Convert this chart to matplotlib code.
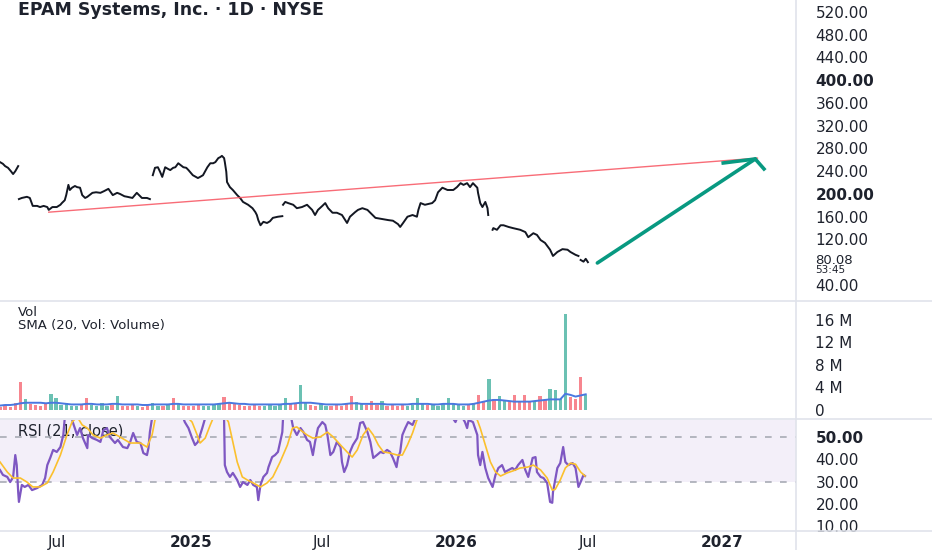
import numpy as np
import pandas as pd
import matplotlib
matplotlib.use('agg')
import matplotlib.pyplot as plt

plt.rcParams['font.family'] = ['DejaVu Sans']

# ---- data ----
start = pd.Timestamp('2024-04-14')
end = pd.Timestamp('2027-04-13')

nan = np.nan
# price trace, days after start; nan marks a gap in the bars
price_days = [0, 4, 7, 11, 15, 18, 21, 25, nan,
              26, 30, 37, 41, 45, 51, 55, 60, 65, 67, 72, 78, 83, 85, 89, 91, 94, 96, 99, 103,
              106, 110, 113, 117, 120, 127, 132, 138, 143, 149, 155, 161, 165, 171, 175, 182,
              188, 195, 202, 206, nan,
              210, 213, 217, 220, 223, 227, 231, 234, 238, 241, 245, 248, 252, 256, 259, 265,
              272, 275, 279, 285, 289, 293, 296, 300, 303, 305, 308, 309, 311, 312, 316, 320,
              326, 330, 334, 341, 347, 351, 353, 355, 358, 362, 367, 371, 375, 382, 388, nan,
              389, 392, 396, 403, 408, 415, 422, 429, 433, 437, 443, 447, 451, 457, 463, 470,
              477, 481, 488, 492, 498, 505, 512, 516, 525, 534, 540, 547, 550, 554, 560, 567,
              573, 575, 578, 584, 594, 598, 602, 608, 615, 623, 628, 633, 637, 642, 646, 650,
              656, 657, 660, 663, 667, 670, 671, nan,
              677, 678, 683, 688, 692, 699, 705, 715, 722, 726, 733, 738, 743, 749, 756, 760,
              766, 773, 780, 784, 791, 795, nan,
              798, 802, 805, 808]
price_vals = [256, 253, 249, 246, 240, 235, 240, 249, nan,
              191, 193, 195, 193, 179, 179, 177, 179, 177, 172, 177, 177, 181, 184, 189, 198,
              216, 207, 211, 214, 212, 211, 198, 193, 195, 202, 203, 202, 205, 209, 198, 202,
              200, 196, 195, 193, 202, 193, 193, 191, nan,
              233, 246, 247, 239, 230, 247, 244, 242, 246, 247, 254, 251, 247, 246, 242, 233,
              228, 230, 233, 247, 254, 254, 256, 263, 265, 267, 263, 256, 239, 221, 212, 207,
              198, 193, 186, 181, 175, 168, 163, 154, 145, 151, 149, 152, 158, 160, 161, nan,
              181, 186, 184, 181, 175, 177, 181, 172, 163, 172, 179, 184, 175, 167, 167, 163,
              149, 160, 168, 172, 175, 172, 163, 158, 156, 154, 153, 147, 142, 149, 160, 163,
              160, 172, 184, 181, 184, 189, 203, 211, 207, 207, 212, 219, 216, 219, 212, 219,
              211, 202, 184, 177, 186, 175, 163, nan,
              137, 140, 137, 145, 145, 142, 140, 137, 133, 124, 131, 128, 119, 114, 102, 91,
              98, 103, 102, 98, 93, 91, nan,
              84, 81, 86, 80.08]
last_price = 80.08
countdown = '53:45'

trend_days = [67, 1041]
trend_vals = [168, 263]

arrow_days = [821, 1038]
arrow_vals = [78.7, 261.5]
head_days = [994, 1038, 1050]
head_vals = [254.5, 261.5, 244]

# weekly volume, millions
volume = [0.5, 0.6, 0.5, 1.2, 4.9, 1.9, 1.0, 0.8, 0.7, 0.9,
          2.8, 2.0, 0.8, 1.1, 0.6, 0.7, 0.9, 2.0, 0.8, 0.6,
          1.2, 0.7, 0.8, 2.4, 0.7, 0.6, 0.8, 0.6, 0.5, 0.7,
          1.2, 0.7, 0.6, 0.8, 2.0, 0.9, 0.6, 0.7, 0.6, 0.8,
          0.7, 0.6, 0.8, 0.9, 2.3, 1.4, 1.0, 0.8, 0.7, 0.6,
          0.8, 0.7, 0.6, 0.8, 0.7, 0.9, 2.1, 1.2, 0.9, 4.4,
          1.1, 0.8, 0.7, 0.9, 0.6, 0.7, 0.8, 0.6, 1.0, 2.4,
          1.3, 0.9, 0.8, 1.6, 0.8, 1.6, 0.7, 0.8, 0.6, 0.9,
          0.7, 0.8, 2.0, 1.0, 0.8, 0.9, 0.7, 1.0, 2.0, 0.9,
          0.8, 0.7, 1.0, 1.1, 2.5, 1.6, 5.4, 1.8, 2.4, 1.5,
          1.4, 2.5, 1.3, 2.6, 1.4, 1.6, 2.4, 1.7, 3.6, 3.5,
          1.9, 16.9, 2.2, 1.8, 5.8, 2.6]
vol_dir = ('dddddudddd' 'uuuuuudduu' 'uududddudd' 'uudududddd' 'uuuudddddd'
           'dduuuuuddu' 'udduuddddd' 'uudddudddd' 'uuuuduuuuu' 'uududduduu'
           'dddddudduu' 'uudddu')
vol_sma = [0.7, 0.8, 0.8, 0.9, 1.1, 1.2, 1.2, 1.2, 1.2, 1.1,
           1.2, 1.2, 1.1, 1.0, 0.9, 0.9, 0.9, 1.0, 1.0, 0.9,
           0.9, 0.9, 1.0, 1.0, 0.9, 0.9, 0.9, 0.9, 0.8, 0.8,
           0.9, 0.9, 0.9, 0.9, 1.0, 1.0, 0.9, 0.9, 0.9, 0.9,
           0.9, 0.9, 0.9, 1.0, 1.1, 1.2, 1.1, 1.0, 1.0, 0.9,
           0.9, 0.9, 0.9, 0.9, 0.9, 0.9, 1.0, 1.0, 1.1, 1.2,
           1.2, 1.2, 1.1, 1.0, 0.9, 0.9, 0.9, 0.9, 1.0, 1.1,
           1.1, 1.0, 1.0, 1.0, 1.0, 1.0, 0.9, 0.9, 0.9, 0.9,
           0.9, 1.0, 1.0, 1.0, 1.0, 0.9, 0.9, 1.0, 1.0, 1.0,
           0.9, 0.9, 0.9, 1.0, 1.2, 1.4, 1.6, 1.7, 1.7, 1.6,
           1.5, 1.4, 1.4, 1.4, 1.4, 1.5, 1.6, 1.7, 1.8, 1.8,
           1.8, 2.8, 2.6, 2.3, 2.5, 2.7]

rsi_days = [0, 4, 10, 14, 18, 21, 23, 25, 26, 30, 34, 39, 44, 51, 58, 62, 65, 69, 73, 78,
            83, 87, 89, 94, 98, 100, 106, 110, 114, 120, 121, 127, 133, 138, 142, 147, 151,
            158, 162, 169, 175, 179, 183, 188, 193, 197, 202, 204, 206, 209, 217, 227, 237,
            248, 254, 259, 264, 268, 272, 278, 282, 289, 297, 305, 308, 309, 312, 316, 320,
            326, 330, 334, 340, 344, 348, 353, 355, 358, 362, 367, 369, 374, 378, 382, 388,
            389, 396, 400, 403, 408, 413, 417, 422, 426, 430, 433, 437, 443, 447, 450, 454,
            458, 463, 468, 470, 473, 477, 481, 485, 491, 495, 499, 505, 509, 513, 518, 523,
            527, 532, 536, 540, 545, 547, 550, 553, 557, 561, 567, 571, 584, 605, 619, 626,
            630, 635, 639, 642, 644, 650, 656, 657, 660, 663, 667, 671, 677, 681, 685, 690,
            694, 699, 704, 708, 712, 718, 722, 726, 732, 736, 738, 743, 747, 752, 756, 759,
            760, 766, 770, 774, 777, 781, 787, 791, 795, 798, 802, 804]
rsi_vals = [35.2, 33.0, 32.1, 29.8, 32.0, 41.9, 37.4, 25.3, 20.9, 28.5, 27.6, 28.5, 26.2,
            27.1, 28.5, 31.6, 37.4, 40.6, 44.2, 43.3, 45.5, 50.9, 58.5, 62, 60, 56.7, 50.9,
            54, 49.5, 45, 50.9, 49.5, 48.7, 47.8, 53, 54, 50, 47.3, 48.7, 45.5, 45, 47.8,
            51.8, 47.8, 47.3, 42.8, 41.9, 45, 52.2, 58.5, 63, 65, 64, 62, 56.7, 54, 49.5,
            46.4, 47.8, 54, 58.5, 63, 64, 61, 57.6, 37.4, 34.3, 32.1, 33.9, 30.7, 27.6, 29.8,
            28.5, 30.7, 28.5, 27.6, 21.7, 28.5, 32.1, 33.9, 36.5, 41, 41.9, 43.3, 52.2, 58.5,
            61, 59, 54, 50.9, 54, 52.2, 48.7, 47.8, 41.9, 47.8, 54, 56.7, 55.4, 50.9, 41.9,
            43.3, 47.8, 45.5, 38.8, 34.3, 37.4, 43.3, 46.4, 49.5, 56.3, 56.7, 52.2, 47.8,
            40.6, 41.9, 43.3, 42.8, 44.2, 43.3, 40.6, 36.5, 40.6, 43.3, 50.9, 54, 56.7, 55.4,
            58.5, 63, 64, 60, 56.7, 60, 59, 56.7, 54, 57.6, 56.7, 50.9, 41.9, 37.4, 43.3,
            36.1, 31.6, 27.6, 33, 36.1, 37.4, 34.3, 35.2, 36.1, 35.2, 37.4, 39.7, 35.2, 32.1,
            40.6, 41, 34.3, 32.1, 31.6, 29.4, 20.9, 20.5, 25.3, 36.1, 38.3, 45.5, 38.8, 37.4,
            38.3, 36.1, 27.6, 29.8, 33, 32.5]

rsi_ma_days = [0, 10, 18, 28, 37, 45, 55, 65, 73, 83, 92, 99, 106, 113, 120, 128, 138, 147,
               155, 165, 179, 193, 202, 209, 213, 220, 234, 248, 257, 264, 271, 275, 282, 289,
               293, 300, 308, 314, 320, 326, 333, 340, 348, 358, 367, 375, 385, 395, 402, 408,
               413, 422, 430, 440, 450, 458, 468, 477, 484, 491, 499, 506, 513, 520, 527, 536,
               546, 553, 560, 567, 573, 584, 605, 633, 649, 656, 660, 667, 674, 681, 688, 697,
               705, 715, 725, 733, 743, 752, 759, 763, 770, 777, 784, 791, 798, 804]
rsi_ma_vals = [38.8, 34.3, 31.6, 31.6, 29.8, 27.6, 27.6, 29.4, 34.3, 41.9, 50.9, 56.7, 59,
               55.4, 54, 50.9, 49.5, 50.9, 51.8, 50, 47.3, 47.3, 45.5, 50.9, 57.6, 61, 63, 62,
               59, 56.7, 50.9, 47.3, 49.5, 55.4, 58.5, 61, 60, 56.7, 47.8, 38.8, 32.1, 30.7,
               29.4, 27.6, 29.4, 32.1, 38.8, 46.4, 54, 54.5, 53.1, 50.9, 49.5, 50, 52.2, 50,
               46.4, 43.3, 41, 44.2, 50.9, 54, 50.9, 46.4, 43.3, 42.8, 41.9, 41.9, 46.4, 51.8,
               57.6, 61, 63, 62, 60, 57.6, 54, 46.4, 38.8, 34.3, 32.5, 33.9, 34.8, 36.1, 36.5,
               37.4, 35.2, 31.6, 26.2, 26.5, 30.7, 36.1, 38.3, 37.8, 34.3, 32.5]

# ---- figure ----
text_col = '#1e222d'
sep_col = '#e0e3eb'
up_col = '#089981'
down_col = '#f23645'

def to_dates(days):
    d = np.array(days, dtype=float)
    out = pd.Series(pd.NaT, index=range(len(d)))
    ok = ~np.isnan(d)
    out[ok] = start + pd.to_timedelta(d[ok], unit='D')
    return out.values

fig = plt.figure(figsize=(9.32, 5.5), dpi=100)
W = 796 / 932
ax_p = fig.add_axes([0, 1 - 300 / 550, W, 300 / 550])
ax_v = fig.add_axes([0, 1 - 418 / 550, W, 117 / 550], sharex=ax_p)
ax_r = fig.add_axes([0, 1 - 530 / 550, W, 110 / 550], sharex=ax_p)

for ax in (ax_p, ax_v, ax_r):
    for s in ax.spines.values():
        s.set_visible(False)
    ax.yaxis.tick_right()
    ax.tick_params(axis='y', length=0, pad=14, labelsize=11, labelcolor=text_col)
    ax.tick_params(axis='x', length=0)
    ax.set_xlim(start, end)

# price pane
pd_dates = to_dates(price_days)
ax_p.plot(pd_dates, price_vals, color='#131722', lw=1.4)
ax_p.plot(to_dates(trend_days), trend_vals, color='#f7525f', lw=1.0, alpha=0.85)
ax_p.plot(to_dates(arrow_days), arrow_vals, color=up_col, lw=2.6, solid_capstyle='round')
ax_p.plot(to_dates(head_days), head_vals, color=up_col, lw=2.6, solid_joinstyle='miter')
ax_p.set_ylim(13.6, 541)
pticks = list(range(40, 521, 40))
pticks.remove(80)
ax_p.set_yticks(pticks, ['%.2f' % t for t in pticks])
for lab, t in zip(ax_p.get_yticklabels(), pticks):
    if t in (200, 400):
        lab.set_fontweight('bold')
ax_p.tick_params(axis='x', labelbottom=False)
ax_p.annotate('%.2f' % last_price, xy=(1, last_price), xycoords=('axes fraction', 'data'),
              xytext=(14, 1.5), textcoords='offset points', va='center', ha='left',
              fontsize=9.5, color=text_col)
ax_p.annotate(countdown, xy=(1, last_price), xycoords=('axes fraction', 'data'),
              xytext=(14, -5.5), textcoords='offset points', va='center', ha='left',
              fontsize=7.5, color=text_col)
ax_p.text(18 / 796, 1 - 10 / 300, 'EPAM Systems, Inc. · 1D · NYSE', transform=ax_p.transAxes,
          ha='left', va='center', fontsize=12.5, fontweight='bold', color=text_col)

# volume pane
wk = start + pd.to_timedelta(np.arange(len(volume)) * 7, unit='D')
cols = [up_col if c == 'u' else down_col for c in vol_dir]
ax_v.bar(wk, volume, width=4.5, color=cols, alpha=0.6, linewidth=0)
ax_v.plot(wk, vol_sma, color='#4a78e0', lw=1.4)
ax_v.set_ylim(-1.51, 19.29)
ax_v.set_yticks([0, 4, 8, 12, 16], ['0', '4 M', '8 M', '12 M', '16 M'])
ax_v.tick_params(axis='x', labelbottom=False)
ax_v.text(18 / 796, 1 - 12 / 117, 'Vol', transform=ax_v.transAxes, ha='left', va='center',
          fontsize=9.5, color=text_col)
ax_v.text(18 / 796, 1 - 25 / 117, 'SMA (20, Vol: Volume)', transform=ax_v.transAxes,
          ha='left', va='center', fontsize=9.5, color=text_col)

# rsi pane
ax_r.axhspan(30, 70, color='#7e57c2', alpha=0.09, lw=0)
for lvl in (50, 30):
    ax_r.axhline(lvl, color='#a8abb5', lw=1.2, dashes=(4, 5))
ax_r.text(18 / 796, 1 - 11 / 110, 'RSI (21, close)', transform=ax_r.transAxes, ha='left',
          va='center', fontsize=10.5, color=text_col, zorder=1)
ax_r.plot(to_dates(rsi_days), rsi_vals, color='#7e57c2', lw=1.6, zorder=3)
ax_r.plot(to_dates(rsi_ma_days), rsi_ma_vals, color='#fbc02d', lw=1.2, zorder=4)
ax_r.set_ylim(8.3, 57.62)
rticks = [10, 20, 30, 40, 50]
ax_r.set_yticks(rticks, ['%.2f' % t for t in rticks])
ax_r.get_yticklabels()[-1].set_fontweight('bold')

xt = pd.to_datetime(['2024-07-01', '2025-01-01', '2025-07-01', '2026-01-01',
                     '2026-07-01', '2027-01-01'])
xl = ['Jul', '2025', 'Jul', '2026', 'Jul', '2027']
ax_r.set_xticks(xt, xl)
ax_r.tick_params(axis='x', pad=3.5, labelsize=11, labelcolor=text_col)
for lab, s in zip(ax_r.get_xticklabels(), xl):
    if s.isdigit():
        lab.set_fontweight('bold')

# pane separators
for yy in (300.5, 419, 531):
    fig.add_artist(plt.Line2D([0, 1], [1 - yy / 550] * 2, color=sep_col, lw=1.2,
                              transform=fig.transFigure))
fig.add_artist(plt.Line2D([W, W], [0, 1], color=sep_col, lw=1.2, transform=fig.transFigure))

fig.savefig('out.png', dpi=100, facecolor='white')
